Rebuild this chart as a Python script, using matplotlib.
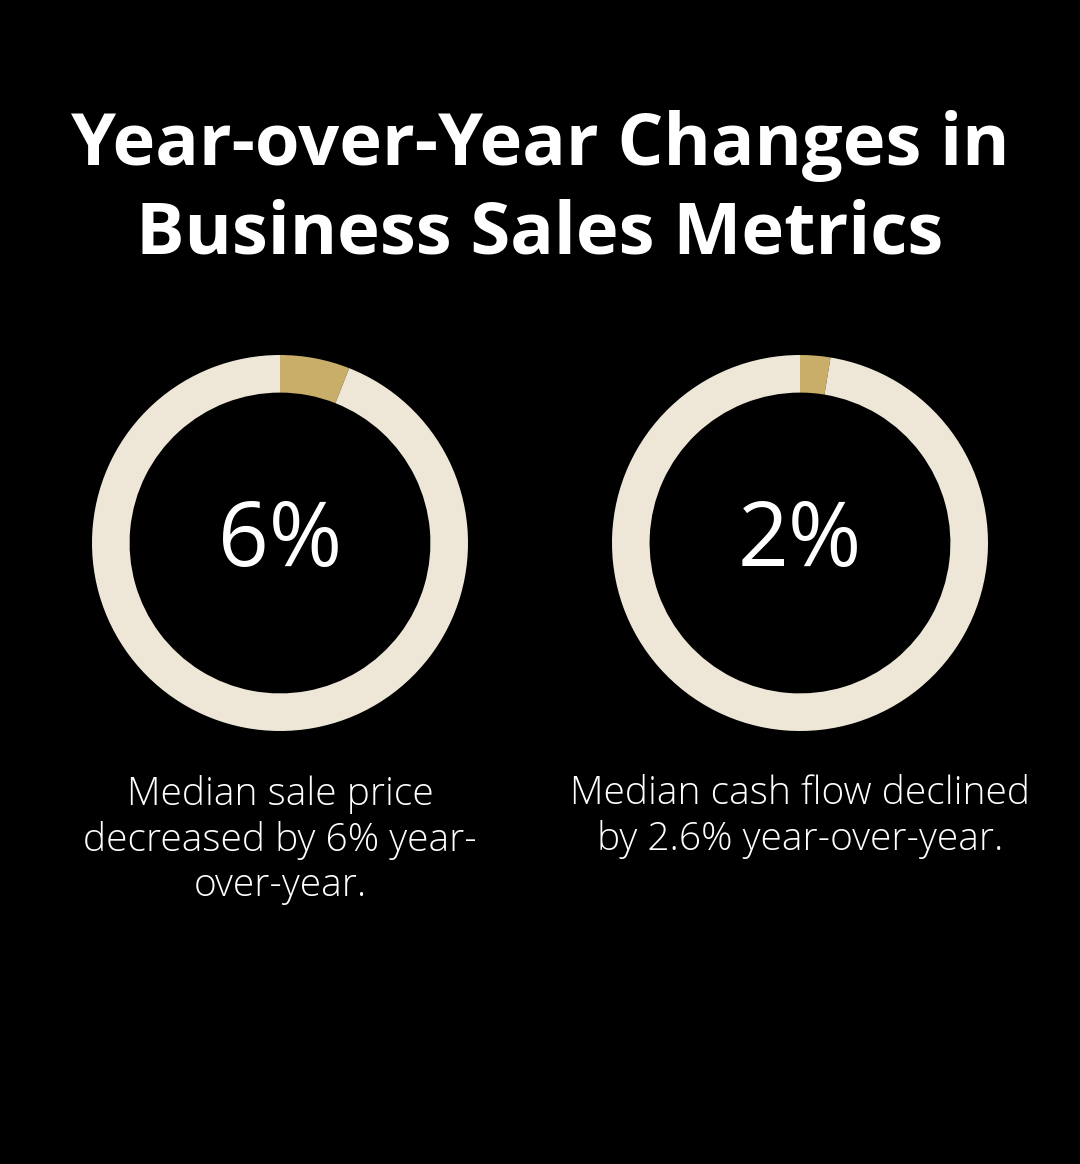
import matplotlib
matplotlib.use("Agg")
import matplotlib.pyplot as plt

values = [6, 2.6]
center_labels = ["6%", "2%"]
captions = ["Median sale price\ndecreased by 6% year-\nover-year.",
            "Median cash flow declined\nby 2.6% year-over-year."]
title = "Year-over-Year Changes in\nBusiness Sales Metrics"

W, H = 1080, 1164
fig = plt.figure(figsize=(W/100, H/100), dpi=100, facecolor="black")
fig.text(0.5, 1-190/H, title, ha="center", va="center", color="white",
         fontsize=52, fontweight="bold", family="Open Sans", linespacing=1.3)

centers = [280, 800]
R = 188
for cx, v, lab, cap in zip(centers, values, center_labels, captions):
    ax = fig.add_axes([(cx-R)/W, 1-(543+R)/H, 2*R/W, 2*R/H])
    ax.set_facecolor("black")
    ax.pie([v, 100-v], colors=["#C9AE6A", "#EEE7D7"], startangle=90, counterclock=False,
           radius=1, wedgeprops=dict(width=0.2, linewidth=0))
    ax.set_xlim(-1, 1)
    ax.set_ylim(-1, 1)
    ax.set_aspect("equal")
    ax.text(0, 0, lab, ha="center", va="center", color="white", fontsize=64, family="Open Sans")
    fig.text(cx/W, 1-775/H, cap, ha="center", va="top", color="white", fontsize=28,
             family="Open Sans", fontweight="light", linespacing=1.22)

fig.savefig("out.png", dpi=100, facecolor="black")
